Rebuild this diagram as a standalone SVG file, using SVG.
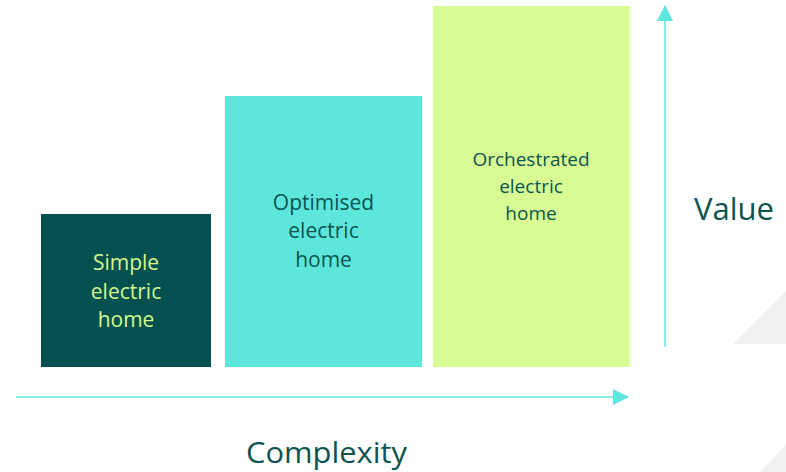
<svg xmlns="http://www.w3.org/2000/svg" width="786" height="472" viewBox="0 0 786 472">
<defs>
<style>
.lbl{font-family:"Open Sans","Noto Sans","Liberation Sans",sans-serif;text-anchor:middle;fill:#0b5450}
.axis{stroke:#5ee8dd;stroke-width:1.5;fill:none}
.big{font-family:"Open Sans","Liberation Sans",sans-serif;fill:#0b5450}
</style>
<marker id="ah" viewBox="0 0 16 16" refX="15" refY="8" markerUnits="userSpaceOnUse" markerWidth="16" markerHeight="16" orient="auto">
<path d="M0,0 L16,8 L0,16 Z" fill="#5ee8dd"/>
</marker>
</defs>
<rect width="786" height="472" fill="#ffffff"/>
<polygon points="733,344 786,344 786,291" fill="#f3f1ef"/>
<polygon points="760,472 786,472 786,445" fill="#f3f1ef"/>
<g id="node-simple">
<rect x="41" y="214" width="170" height="153" fill="#02504f"/>
<text class="lbl" font-size="21" style="fill:#d6f98f"><tspan x="126" y="270">Simple</tspan><tspan x="126" y="298.5">electric</tspan><tspan x="126" y="327">home</tspan></text>
</g>
<g id="node-optimised">
<rect x="225" y="96" width="197" height="271" fill="#5ce6dc"/>
<text class="lbl" font-size="21"><tspan x="323.5" y="209.5">Optimised</tspan><tspan x="323.5" y="238">electric</tspan><tspan x="323.5" y="267">home</tspan></text>
</g>
<g id="node-orchestrated">
<rect x="433" y="6" width="197" height="361" fill="#d8fc94"/>
<text class="lbl" font-size="19"><tspan x="531" y="166">Orchestrated</tspan><tspan x="531" y="193">electric</tspan><tspan x="531" y="220">home</tspan></text>
</g>
<g id="connectors">
<line class="axis" x1="16" y1="397" x2="628" y2="397" marker-end="url(#ah)"/>
<line class="axis" x1="665" y1="347" x2="665" y2="6" marker-end="url(#ah)"/>
</g>
<text class="big" x="694" y="220" font-size="31">Value</text>
<text class="big" x="246" y="463" font-size="30" textLength="161" lengthAdjust="spacingAndGlyphs">Complexity</text>
</svg>
